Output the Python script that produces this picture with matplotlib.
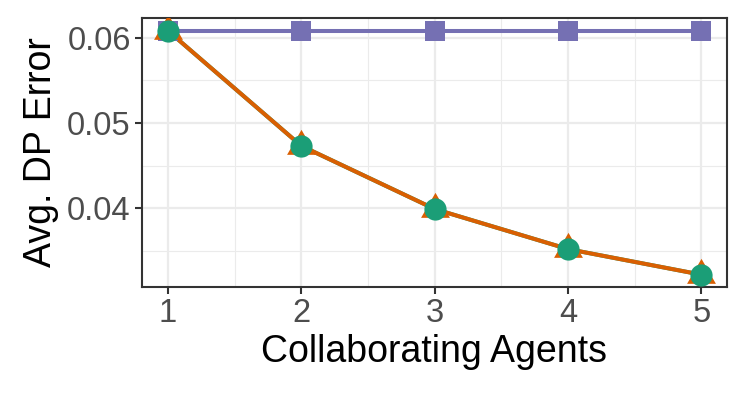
import matplotlib
matplotlib.use("Agg")
import matplotlib.pyplot as plt
from matplotlib.ticker import MultipleLocator

agents = [1, 2, 3, 4, 5]
baseline = [0.0608, 0.0608, 0.0608, 0.0608, 0.0608]
collab_tri = [0.0608, 0.0473, 0.0399, 0.0352, 0.0322]
collab_circ = [0.0608, 0.0473, 0.0399, 0.0352, 0.0322]

green, orange, purple = "#1B9E77", "#D95F02", "#7570B3"

# triangle centred on its centroid, like ggplot's shape 17
tri = [(0, 1), (-0.866, -0.5), (0.866, -0.5)]

plt.rcParams['font.family'] = ['Liberation Sans', 'DejaVu Sans']

fig = plt.figure(figsize=(7.47, 3.98), dpi=100)
ax = fig.add_axes([0.190, 0.280, 0.783, 0.674])

# lines first, then points on top (ggplot order)
ax.plot(agents, collab_circ, color=green, lw=2.9, zorder=3)
ax.plot(agents, collab_tri, color=orange, lw=2.9, zorder=3)
ax.plot(agents, baseline, color=purple, lw=2.9, zorder=3)
ax.plot(agents, baseline, ls="none", marker="s", ms=14.5, color=purple, mew=0, zorder=4)
ax.plot(agents, collab_tri, ls="none", marker=tri, ms=24, color=orange, mew=0, zorder=5)
ax.plot(agents, collab_circ, ls="none", marker="o", ms=16, color=green, mew=0, zorder=6)

ax.set_xlim(0.805, 5.19)
ax.set_ylim(0.03081, 0.06226)
ax.set_xticks(agents)
ax.xaxis.set_minor_locator(MultipleLocator(0.5))
ax.yaxis.set_minor_locator(MultipleLocator(0.005))
ax.set_yticks([0.04, 0.05, 0.06])
ax.set_yticklabels(["0.04", "0.05", "0.06"])

ax.grid(which="major", color="#EBEBEB", lw=1.6, zorder=0)
ax.grid(which="minor", color="#EBEBEB", lw=0.8, zorder=0)
ax.set_axisbelow(True)
for s in ax.spines.values():
    s.set_color("#333333")
    s.set_linewidth(1.5)
ax.tick_params(which="major", length=5, width=1.5, color="#333333",
               labelsize=23.5, labelcolor="#4D4D4D", pad=3)
ax.tick_params(which="minor", length=0)

ax.set_xlabel("Collaborating Agents", fontsize=27, color="black", labelpad=4)
ax.set_ylabel("Avg. DP Error", fontsize=27, color="black", labelpad=6)

fig.savefig("out.png", dpi=100)
